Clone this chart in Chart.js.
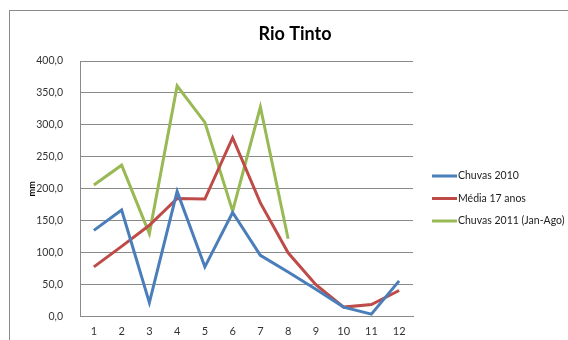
<!DOCTYPE html>
<html lang="pt">
<head>
<meta charset="UTF-8">
<title>Rio Tinto</title>
<script src="https://cdn.jsdelivr.net/npm/chart.js"></script>
<style>
    html, body {
        margin: 0;
        padding: 0;
        background: #fff;
        overflow: hidden;
    }
    #frame {
        position: absolute;
        left: 9px;
        top: 10px;
        width: 600px;
        height: 400px;
        border: 1px solid #8a8a8a;
    }
    #wrap {
        position: absolute;
        left: 0;
        top: 0;
        width: 568px;
        height: 340px;
    }
</style>
</head>
<body>
<div id="frame"></div>
<div id="wrap"><canvas id="rioTinto" width="568" height="340"></canvas></div>

<script>
// months 1..12
var meses = ['1', '2', '3', '4', '5', '6', '7', '8', '9', '10', '11', '12'];
var chuvas2010 = [135, 167, 22, 196, 78, 163, 96, 70, 43, 15, 4, 56];
var media17 = [78, 110, 143, 185, 184, 280, 178, 100, 50, 15, 19, 41];
var chuvas2011 = [206, 237, 130, 361, 304, 165, 328, 122];
var yTicks = [0, 50, 100, 150, 200, 250, 300, 350, 400];

var fontFamily = 'Lato, "Open Sans", sans-serif';

// title and legend drawn by hand to sit where Excel put them
var excelBits = {
    id: 'excelBits',
    afterDraw: function (chart) {
        var c = chart.ctx;
        c.save();
        c.fillStyle = '#000';
        c.font = 'bold 18px ' + fontFamily;
        c.textAlign = 'center';
        c.textBaseline = 'middle';
        c.fillText('Rio Tinto', 295, 34);

        c.font = '10.5px ' + fontFamily;
        c.textAlign = 'left';
        chart.data.datasets.forEach(function (ds, i) {
            var y = 176 + i * 22.5;
            c.strokeStyle = ds.borderColor;
            c.lineWidth = 3;
            c.beginPath();
            c.moveTo(432, y);
            c.lineTo(457, y);
            c.stroke();
            c.fillStyle = '#222';
            c.fillText(ds.label, 458, y);
        });
        c.restore();
    }
};

var ctx = document.getElementById('rioTinto').getContext('2d');
var grafico = new Chart(ctx, {
    type: 'line',
    data: {
        labels: meses,
        datasets: [{
            label: 'Chuvas 2010',
            data: chuvas2010,
            borderColor: '#4a7ebb',
            backgroundColor: '#4a7ebb'
        }, {
            label: 'Média 17 anos',
            data: media17,
            borderColor: '#be4b48',
            backgroundColor: '#be4b48'
        }, {
            label: 'Chuvas 2011 (Jan-Ago)',
            data: chuvas2011,
            borderColor: '#98b954',
            backgroundColor: '#98b954'
        }]
    },
    options: {
        responsive: false,
        animation: false,
        layout: {
            padding: { left: 0, right: 155, top: 61, bottom: 0 }
        },
        elements: {
            line: { borderWidth: 3, tension: 0 },
            point: { radius: 0, hoverRadius: 0 }
        },
        plugins: {
            legend: { display: false },
            title: { display: false },
            tooltip: { enabled: false }
        },
        scales: {
            x: {
                offset: true,
                grid: { display: false, drawTicks: false },
                border: { color: '#8a8a8a', width: 1 },
                ticks: {
                    padding: 8,
                    color: '#333',
                    font: { family: fontFamily, size: 11 }
                },
                afterFit: function (scale) { scale.height = 20; }
            },
            y: {
                min: 0,
                max: 400,
                afterBuildTicks: function (scale) {
                    scale.ticks = yTicks.map(function (v) { return { value: v }; });
                },
                grid: { color: '#8a8a8a', lineWidth: 1, drawTicks: false },
                border: { color: '#8a8a8a', width: 1 },
                ticks: {
                    padding: 17,
                    color: '#333',
                    font: { family: fontFamily, size: 10.5 },
                    callback: function (v) { return v.toFixed(1).replace('.', ','); }
                },
                title: {
                    display: true,
                    text: 'mm',
                    color: '#000',
                    font: { family: fontFamily, size: 9, weight: 'bold' },
                    padding: { top: 27, bottom: 0 }
                },
                afterFit: function (scale) { scale.width = 80; }
            }
        }
    },
    plugins: [excelBits]
});
</script>
</body>
</html>
